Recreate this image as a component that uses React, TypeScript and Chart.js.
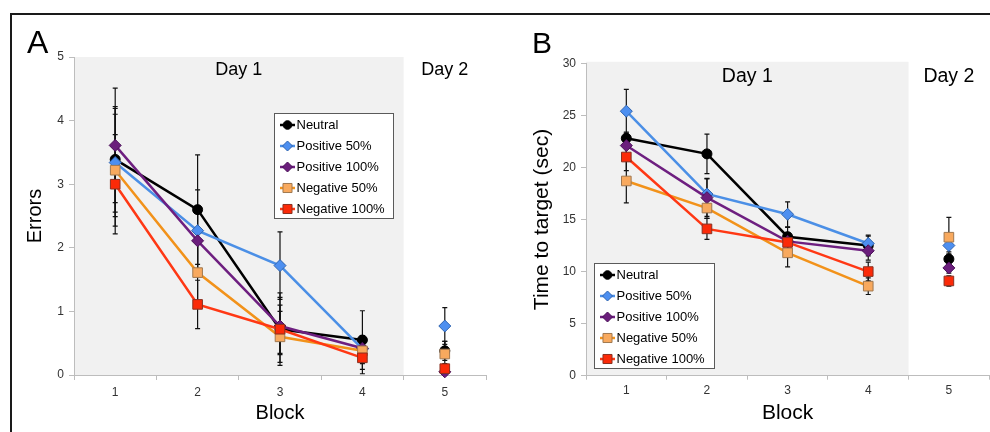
import React, { useEffect, useRef } from 'react';
import { Chart, registerables } from 'chart.js';
Chart.register(...registerables);

const FONT = '"Liberation Sans", Arial, Helvetica, sans-serif';

// ---------- data ----------
const blocks = ['1', '2', '3', '4', '5'];
const seriesNames = ['Neutral', 'Positive 50%', 'Positive 100%', 'Negative 50%', 'Negative 100%'];
const dayLabels = ['Day 1', 'Day 2'];

const errorsNeutral = [3.39, 2.6, 0.72, 0.55, 0.38];
const errorsPos50 = [3.34, 2.27, 1.72, 0.41, 0.77];
const errorsPos100 = [3.61, 2.11, 0.77, 0.42, 0.05];
const errorsNeg50 = [3.22, 1.61, 0.6, 0.38, 0.33];
const errorsNeg100 = [3.0, 1.11, 0.72, 0.27, 0.1];

const errorsNeutralSE = [0.83, 0.86, 0.57, 0.46, 0.15];
const errorsPos50SE = [0.85, 0.64, 0.53, 0.2, 0.29];
const errorsPos100SE = [0.9, 0.55, 0.45, 0.2, 0.05];
const errorsNeg50SE = [0.88, 0.45, 0.4, 0.2, 0.2];
const errorsNeg100SE = [0.78, 0.38, 0.38, 0.25, 0.08];

const timeNeutral = [22.8, 21.3, 13.35, 12.5, 11.2];
const timePos50 = [25.4, 17.45, 15.5, 12.7, 12.5];
const timePos100 = [22.1, 17.1, 12.9, 12.0, 10.35];
const timeNeg50 = [18.7, 16.1, 11.8, 8.6, 13.3];
const timeNeg100 = [21.0, 14.1, 12.8, 10.0, 9.1];

const timeNeutralSE = [0.6, 1.9, 0.9, 1.0, 0.5];
const timePos50SE = [2.1, 1.5, 1.2, 0.7, 0.6];
const timePos100SE = [1.0, 1.8, 0.8, 0.9, 0.5];
const timeNeg50SE = [2.1, 1.0, 1.35, 0.8, 1.9];
const timeNeg100SE = [1.3, 1.0, 0.9, 0.9, 0.5];

const errorsTicks = { min: 0, max: 5, step: 1 };
const timeTicks = { min: 0, max: 30, step: 5 };

// ---------- styles ----------
type Style = { line: string; fill: string; edge: string; shape: string; r: number };
const styles: Style[] = [
  { line: '#000000', fill: '#000000', edge: '#000000', shape: 'circle', r: 5 },
  { line: '#4b8fe6', fill: '#4d8ff0', edge: '#2f64b0', shape: 'rectRot', r: 6 },
  { line: '#6e1f80', fill: '#6b1e7c', edge: '#4a1058', shape: 'rectRot', r: 6 },
  { line: '#f2921a', fill: '#f8a95e', edge: '#a07850', shape: 'rect', r: 6.8 },
  { line: '#ff3814', fill: '#fb2a08', edge: '#8a3020', shape: 'rect', r: 6.8 },
];

function drawMarker(ctx: CanvasRenderingContext2D, s: Style, x: number, y: number, r: number) {
  ctx.beginPath();
  if (s.shape === 'circle') {
    ctx.arc(x, y, r, 0, Math.PI * 2);
  } else if (s.shape === 'rectRot') {
    ctx.moveTo(x, y - r);
    ctx.lineTo(x + r, y);
    ctx.lineTo(x, y + r);
    ctx.lineTo(x - r, y);
    ctx.closePath();
  } else {
    const h = r * Math.SQRT1_2;
    ctx.rect(x - h, y - h, 2 * h, 2 * h);
  }
  ctx.fillStyle = s.fill;
  ctx.fill();
  ctx.lineWidth = 1;
  ctx.strokeStyle = s.edge;
  ctx.stroke();
}

type Panel = {
  letter: string;
  letterX: number;
  letterSize: number;
  yTitle: string;
  means: number[][];
  ses: number[][];
  ticks: { min: number; max: number; step: number };
  canvasWidth: number;
  padding: { left: number; right: number; top: number; bottom: number };
  yWidth: number;
  xHeight: number;
  yTitleFont: number;
  yTitlePad: number;
  xTitleFont: number;
  xTitlePad: number;
  xTickLen: number;
  dayFont: number;
  dayDy: number;
  shadeExtra: number;
  legend: { dx: number; dy: number | null; dyBottom: number | null; w: number; h: number };
};

function makeDecor(p: Panel) {
  return {
    id: 'decor' + p.letter,
    beforeDraw(chart: any) {
      const { ctx, chartArea } = chart;
      const x = chart.scales.x;
      const boundary = (x.getPixelForValue(3) + x.getPixelForValue(4)) / 2;
      ctx.save();
      ctx.fillStyle = '#f1f1f1';
      ctx.fillRect(chartArea.left, chartArea.top - p.shadeExtra, boundary - chartArea.left, chartArea.bottom - chartArea.top + p.shadeExtra);
      ctx.restore();
    },
    beforeDatasetsDraw(chart: any) {
      const { ctx } = chart;
      const x = chart.scales.x;
      const y = chart.scales.y;
      ctx.save();
      ctx.strokeStyle = '#111';
      ctx.lineWidth = 1.2;
      p.means.forEach((vals, i) => {
        vals.forEach((v, j) => {
          const e = p.ses[i][j];
          const px = x.getPixelForValue(j);
          const yt = y.getPixelForValue(v + e);
          const yb = y.getPixelForValue(Math.max(0, v - e));
          ctx.beginPath();
          ctx.moveTo(px, yt);
          ctx.lineTo(px, yb);
          ctx.moveTo(px - 2.5, yt);
          ctx.lineTo(px + 2.5, yt);
          ctx.moveTo(px - 2.5, yb);
          ctx.lineTo(px + 2.5, yb);
          ctx.stroke();
        });
      });
      ctx.restore();
    },
    afterDraw(chart: any) {
      const { ctx, chartArea } = chart;
      const x = chart.scales.x;
      ctx.save();
      // panel letter
      ctx.fillStyle = '#000';
      ctx.font = `${p.letterSize}px ${FONT}`;
      ctx.textAlign = 'left';
      ctx.textBaseline = 'alphabetic';
      ctx.fillText(p.letter, p.letterX, 53);
      // day labels
      ctx.font = `${p.dayFont}px ${FONT}`;
      ctx.textAlign = 'center';
      ctx.textBaseline = 'middle';
      const d1 = (x.getPixelForValue(0) + x.getPixelForValue(3)) / 2;
      const d2 = x.getPixelForValue(4);
      ctx.fillText(dayLabels[0], d1, chartArea.top + p.dayDy);
      ctx.fillText(dayLabels[1], d2, chartArea.top + p.dayDy);
      // legend
      const L = p.legend;
      const left = chartArea.left + L.dx;
      const top = L.dy !== null ? chartArea.top + L.dy : chartArea.bottom - (L.dyBottom as number) - L.h;
      ctx.fillStyle = '#ffffff';
      ctx.fillRect(left, top, L.w, L.h);
      ctx.strokeStyle = '#5a5a5a';
      ctx.lineWidth = 1;
      ctx.strokeRect(Math.round(left) + 0.5, Math.round(top) + 0.5, L.w, L.h);
      ctx.font = `13px ${FONT}`;
      ctx.textAlign = 'left';
      ctx.textBaseline = 'middle';
      seriesNames.forEach((name, i) => {
        const s = styles[i];
        const cy = top + 12 + i * 21;
        ctx.beginPath();
        ctx.strokeStyle = s.line;
        ctx.lineWidth = 2.5;
        ctx.moveTo(left + 6, cy);
        ctx.lineTo(left + 21, cy);
        ctx.stroke();
        drawMarker(ctx, s, left + 13.5, cy, s.shape === 'circle' ? 4.3 : s.shape === 'rect' ? 6.4 : 5);
        ctx.fillStyle = '#000';
        ctx.fillText(name, left + 22.5, cy + 0.5);
      });
      ctx.restore();
    },
  };
}

function makeConfig(p: Panel): any {
  return {
    type: 'line',
    data: {
      labels: blocks,
      datasets: p.means.map((vals, i) => ({
        label: seriesNames[i],
        data: vals,
        borderColor: styles[i].line,
        backgroundColor: styles[i].fill,
        borderWidth: 2.5,
        pointStyle: styles[i].shape,
        pointRadius: styles[i].r,
        pointBackgroundColor: styles[i].fill,
        pointBorderColor: styles[i].edge,
        pointBorderWidth: 1,
        tension: 0,
        order: 5 - i,
        clip: false,
        segment: {
          borderColor: (c: any) => (c.p1DataIndex === 4 ? 'rgba(0,0,0,0)' : undefined),
        },
      })),
    },
    options: {
      animation: false,
      responsive: false,
      maintainAspectRatio: false,
      events: [],
      layout: { padding: p.padding },
      plugins: { legend: { display: false }, tooltip: { enabled: false } },
      scales: {
        x: {
          type: 'category',
          offset: true,
          grid: { display: true, drawOnChartArea: false, offset: true, tickLength: p.xTickLen, color: '#bdbdbd' },
          border: { color: '#bdbdbd' },
          ticks: { font: { family: FONT, size: 12 }, color: '#333', padding: p.xTickLen },
          title: {
            display: true,
            text: 'Block',
            color: '#000',
            font: { family: FONT, size: p.xTitleFont },
            padding: { top: 0, bottom: p.xTitlePad },
          },
          afterFit: (s: any) => {
            s.height = p.xHeight;
          },
        },
        y: {
          min: p.ticks.min,
          max: p.ticks.max,
          grid: { display: true, drawOnChartArea: false, tickLength: 5, color: '#bdbdbd' },
          border: { color: '#bdbdbd' },
          ticks: { stepSize: p.ticks.step, font: { family: FONT, size: 12 }, color: '#333', padding: 5 },
          title: {
            display: true,
            text: p.yTitle,
            color: '#000',
            font: { family: FONT, size: p.yTitleFont },
            padding: { top: p.yTitlePad, bottom: 0 },
          },
          afterFit: (s: any) => {
            s.width = p.yWidth;
          },
        },
      },
    },
    plugins: [makeDecor(p)],
  };
}

const panelA: Panel = {
  letter: 'A',
  letterX: 27,
  letterSize: 32,
  yTitle: 'Errors',
  means: [errorsNeutral, errorsPos50, errorsPos100, errorsNeg50, errorsNeg100],
  ses: [errorsNeutralSE, errorsPos50SE, errorsPos100SE, errorsNeg50SE, errorsNeg100SE],
  ticks: errorsTicks,
  canvasWidth: 495,
  padding: { left: 0, right: 9, top: 57, bottom: 0 },
  yWidth: 74,
  xHeight: 57,
  yTitleFont: 20,
  yTitlePad: 23,
  xTitleFont: 20,
  xTitlePad: 6.5,
  xTickLen: 5,
  dayFont: 18,
  dayDy: 13.5,
  shadeExtra: 0,
  legend: { dx: 200, dy: 56, dyBottom: null, w: 119, h: 105 },
};

const panelB: Panel = {
  letter: 'B',
  letterX: 37,
  letterSize: 30,
  yTitle: 'Time to target (sec)',
  means: [timeNeutral, timePos50, timePos100, timeNeg50, timeNeg100],
  ses: [timeNeutralSE, timePos50SE, timePos100SE, timeNeg50SE, timeNeg100SE],
  ticks: timeTicks,
  canvasWidth: 502,
  padding: { left: 0, right: 1, top: 63.3, bottom: 0 },
  yWidth: 91,
  xHeight: 56.3,
  yTitleFont: 21,
  yTitlePad: 34.4,
  xTitleFont: 21,
  xTitlePad: 6,
  xTickLen: 4,
  dayFont: 19.5,
  dayDy: 13,
  shadeExtra: 1.5,
  legend: { dx: 8, dy: null, dyBottom: 7.7, w: 120, h: 105 },
};

function ChartPanel({ panel, left }: { panel: Panel; left: number }) {
  const ref = useRef<HTMLCanvasElement | null>(null);
  useEffect(() => {
    if (!ref.current) return;
    const chart = new Chart(ref.current, makeConfig(panel));
    return () => chart.destroy();
  }, [panel]);
  return (
    <canvas
      ref={ref}
      width={panel.canvasWidth}
      height={432}
      style={{ position: 'absolute', left, top: 0, width: panel.canvasWidth, height: 432 }}
    />
  );
}

export default function App() {
  return (
    <div style={{ position: 'absolute', left: 0, top: 0, width: 990, height: 432, overflow: 'hidden', background: '#fff' }}>
      <div
        style={{
          position: 'absolute',
          left: 10,
          top: 13,
          width: 990,
          height: 430,
          borderTop: '2px solid #1a1a1a',
          borderLeft: '2px solid #1a1a1a',
        }}
      />
      <ChartPanel panel={panelA} left={0} />
      <ChartPanel panel={panelB} left={495} />
    </div>
  );
}
